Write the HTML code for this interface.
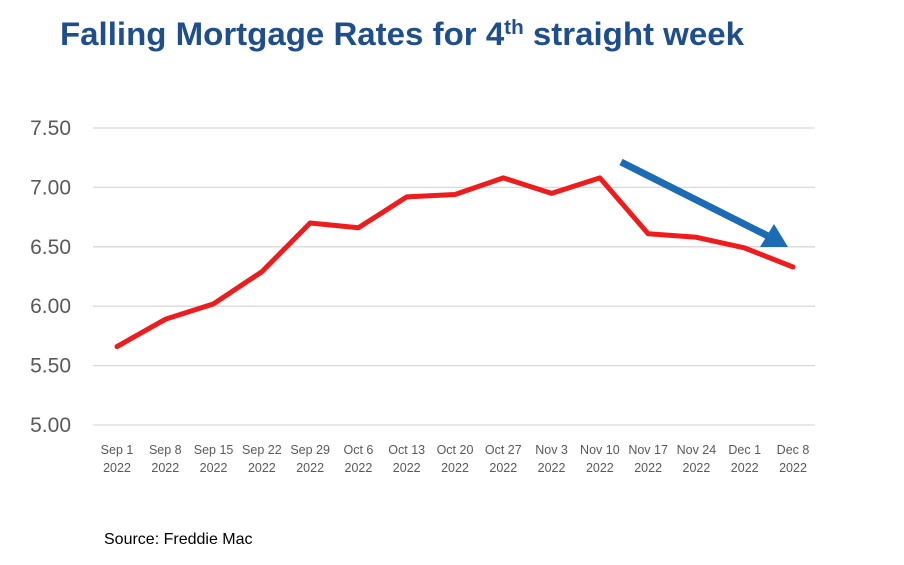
<!DOCTYPE html>
<html><head><meta charset="utf-8"><style>
body{margin:0;background:#fff;width:904px;height:560px;overflow:hidden;font-family:"Liberation Sans",sans-serif}
</style></head><body>
<svg width="904" height="560">
<text x="60" y="45" font-size="32" font-weight="bold" fill="#1f4e8c" textLength="684" lengthAdjust="spacingAndGlyphs">Falling Mortgage Rates for 4<tspan font-size="20" dy="-11">th</tspan><tspan dy="11"> straight week</tspan></text>
<g id="grid"></g><g id="xl"></g>
<path id="line" fill="none" stroke="#ee1c1c" stroke-width="5" stroke-linejoin="round" stroke-linecap="round"/>
<line x1="621" y1="162" x2="768" y2="236" stroke="#1b6bb5" stroke-width="7"/>
<polygon points="788,247 760,247 774,224" fill="#1b6bb5"/>
<text x="104" y="544" font-size="16" fill="#000">Source: Freddie Mac</text>
</svg>
<script>
const categories=["Sep 1","Sep 8","Sep 15","Sep 22","Sep 29","Oct 6","Oct 13","Oct 20","Oct 27","Nov 3","Nov 10","Nov 17","Nov 24","Dec 1","Dec 8"];
const years=["2022","2022","2022","2022","2022","2022","2022","2022","2022","2022","2022","2022","2022","2022","2022"];
const rates=[5.66,5.89,6.02,6.29,6.70,6.66,6.92,6.94,7.08,6.95,7.08,6.61,6.58,6.49,6.33];
const yTicks=[5.00,5.50,6.00,6.50,7.00,7.50];
const NS="http://www.w3.org/2000/svg";
const y=v=>425-(v-5)*(425-128)/2.5;
const x=i=>117+i*(793-117)/(categories.length-1);
const g=document.getElementById('grid'),xl=document.getElementById('xl');
yTicks.forEach(t=>{
 const l=document.createElementNS(NS,'line');
 l.setAttribute('x1',93);l.setAttribute('x2',815);l.setAttribute('y1',y(t));l.setAttribute('y2',y(t));
 l.setAttribute('stroke','#d9d9d9');l.setAttribute('stroke-width','1.3');
 
 
 g.appendChild(l);
 const tx=document.createElementNS(NS,'text');
 tx.setAttribute('x',71);tx.setAttribute('y',y(t)+7);tx.setAttribute('text-anchor','end');
 tx.setAttribute('font-size','21');tx.setAttribute('fill','#595959');tx.textContent=t.toFixed(2);
 
 
 g.appendChild(tx);
});
categories.forEach((c,i)=>{
 [c,years[i]].forEach((s,k)=>{
  const tx=document.createElementNS(NS,'text');
  tx.setAttribute('x',x(i));tx.setAttribute('y',454+k*18);tx.setAttribute('text-anchor','middle');
  tx.setAttribute('font-size','12.5');tx.setAttribute('fill','#595959');tx.textContent=s;
  
  
  xl.appendChild(tx);
 });
});
document.getElementById('line').setAttribute('d',rates.map((v,i)=>(i?'L':'M')+x(i)+' '+y(v)).join(' '));
</script>
</body></html>
